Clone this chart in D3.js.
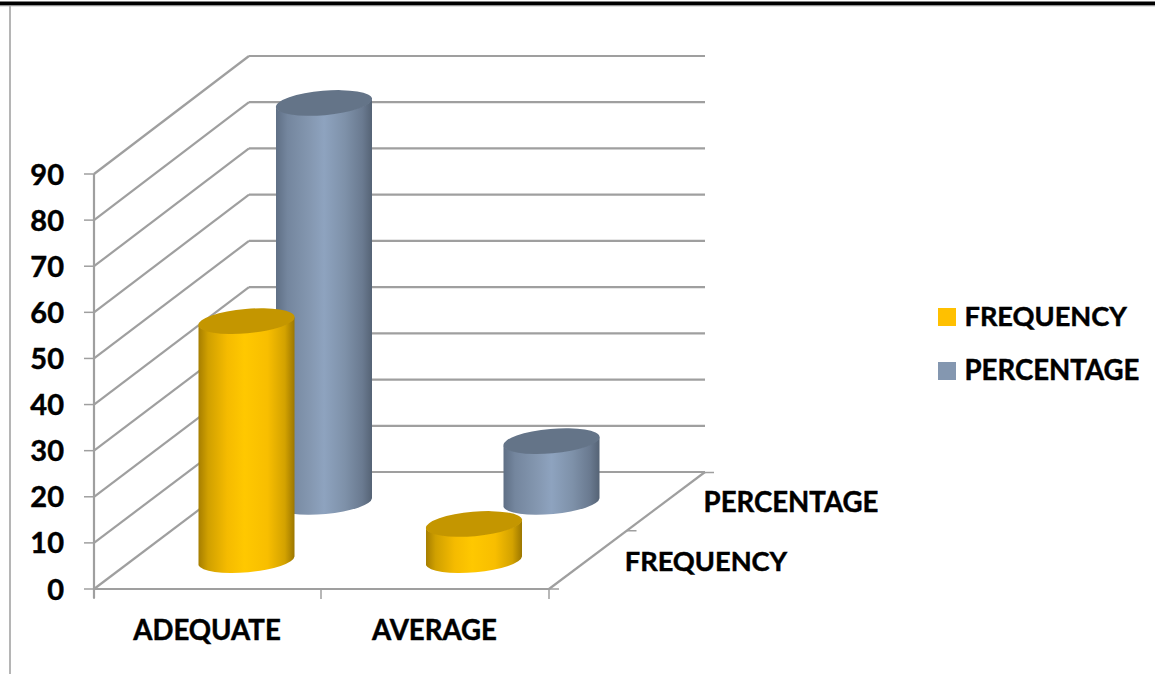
<!DOCTYPE html>
<html><head><meta charset="utf-8">
<style>html,body{margin:0;padding:0;background:#fff}svg{display:block}text{font-family:Lato,"Open Sans",sans-serif;font-weight:700;fill:#000;stroke:#000;stroke-width:.45px}</style>
<script src="https://cdn.jsdelivr.net/npm/d3@7"></script></head>
<body><svg id="c" width="1155" height="674"></svg>
<script>
const categories = ["ADEQUATE","AVERAGE"];
const seriesNames = ["FREQUENCY","PERCENTAGE"];
const frequency = [52,8];
const percentage = [86.67,13.33];
const yTicks = [0,10,20,30,40,50,60,70,80,90];
const topColors = ["#c49600","#647488"];
const legendColors = ["#FFC000","#8497B0"];

const svg = d3.select("#c");
const defs = svg.append("defs");
const grads = [
 [[0,"#a67e00"],[.1,"#d0a000"],[.3,"#f5bb00"],[.48,"#ffc800"],[.72,"#f8be00"],[.9,"#d3a200"],[1,"#9c7700"]],
 [[0,"#5f6f85"],[.12,"#74869e"],[.35,"#8497b0"],[.5,"#8ea3bf"],[.72,"#7e91a9"],[.9,"#6a7a90"],[1,"#556375"]]
];
grads.forEach((g,i)=>{
  const lg=defs.append("linearGradient").attr("id","g"+i);
  g.forEach(s=>lg.append("stop").attr("offset",s[0]).attr("stop-color",s[1]));
});

const y = d3.scaleLinear().domain([0,90]).range([589,174]);
const yBack = d3.scaleLinear().domain([0,90]).range([472,56]);
const x = d3.scaleBand().domain(categories).range([94,549]);
const z = d3.scaleBand().domain(seriesNames).range([0,1]);
const depthX = 155, depthY = -116.5;
const gridC = "#9f9f9f";
const line=(a,b,c,d,w=2.2,col=gridC)=>svg.append("line").attr("x1",a).attr("y1",b).attr("x2",c).attr("y2",d).attr("stroke",col).attr("stroke-width",w);

// page furniture
line(0,3.5,1155,3.5,4,"#000");
line(0,5.8,1155,5.8,1,"#999");
line(10,6,10,674,2,"#b5b5b5");

// back wall + left wall
yTicks.forEach(t=>{
  const yy=y(t), yb=yBack(t);
  line(94+depthX,yb,705,yb);
  line(94,yy,94+depthX,yb);
  line(84,yy,94,yy,1.5);
  svg.append("text").attr("x",64).attr("y",yy+10.5).attr("text-anchor","end").attr("font-size",29).text(t);
});
line(94,y(90),94,598);
line(94,y(0),549,y(0));
line(549,y(0),549+depthX+1,yBack(0));
[94,321,549].forEach(v=>line(v,y(0),v,599,1.5));
[0,.5,1].forEach(f=>{const px=549+f*depthX,py=y(0)+f*depthY;line(px,py,px+10,py,1.5);});

// cylinders
const rx=48, tilt=4.4, b=12.2, rot=-5;
function cyl(cat,si,val){
  const d=z(seriesNames[si])+z.bandwidth()/2;
  const cx=x(cat)+x.bandwidth()/2+d*depthX;
  const base=y(0)+d*depthY+1;
  const top=base-(y(0)-y(val));
  const a=rx+.3;
  const g=svg.append("g");
  g.append("path").attr("fill",`url(#g${si})`)
   .attr("d",`M${cx-rx},${top+tilt} L${cx-rx},${base+tilt} A${a},${b} ${rot} 0 0 ${cx+rx},${base-tilt} L${cx+rx},${top-tilt} A${a},${b} ${rot} 0 1 ${cx-rx},${top+tilt} Z`);
  g.append("ellipse").attr("cx",cx).attr("cy",top).attr("rx",a).attr("ry",b)
   .attr("transform",`rotate(${rot} ${cx} ${top})`).attr("fill",topColors[si]);
}
categories.forEach((c,i)=>cyl(c,1,percentage[i]));
categories.forEach((c,i)=>cyl(c,0,frequency[i]));

// labels
const catX=[207,434.5];
categories.forEach((c,i)=>svg.append("text").attr("x",catX[i]).attr("y",640).attr("text-anchor","middle").attr("font-size",27.6).text(c));
svg.append("text").attr("x",791).attr("y",512).attr("text-anchor","middle").attr("font-size",27.6).text(seriesNames[1]);
svg.append("text").attr("x",706).attr("y",571).attr("text-anchor","middle").attr("font-size",27.2).text(seriesNames[0]);

// legend
seriesNames.forEach((s,i)=>{
  const ly=308+i*54;
  svg.append("rect").attr("x",938).attr("y",ly).attr("width",18).attr("height",18).attr("fill",legendColors[i]);
  svg.append("text").attr("x",964.5).attr("y",ly+18).attr("font-size",i?27.6:27.2).text(s);
});
</script></body></html>
